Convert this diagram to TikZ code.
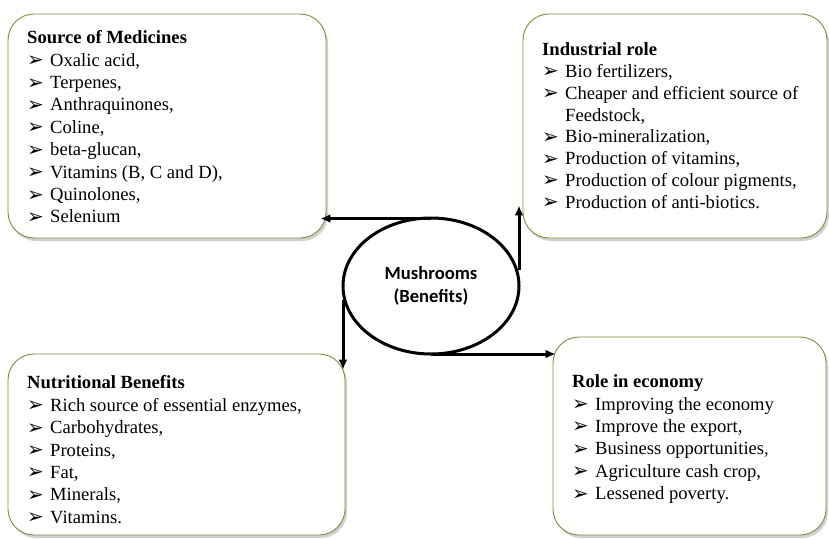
\documentclass[tikz,border=0pt]{standalone}
\usepackage{fontspec}
\setmainfont{Liberation Serif}
\newfontfamily\calib{Carlito}
\newfontfamily\dejavu{DejaVu Sans}
\usetikzlibrary{shadows,arrows.meta,calc,shapes.geometric}
\definecolor{boxgreen}{HTML}{77933C}
\newcommand\bu{\makebox[23pt][l]{\raisebox{-0.5pt}{\dejavu\fontsize{20}{20}\selectfont ➢}}}
\begin{document}
\begin{tikzpicture}[x=1pt,y=-1pt,
  box/.style={draw=boxgreen, line width=0.9pt, fill=white, rounded corners=26pt,
    drop shadow={shadow xshift=2pt, shadow yshift=-3pt, fill=black!45, opacity=0.4}},
  txt/.style={align=left, inner sep=0pt, anchor=north west, font=\fontsize{18.6}{22.4}\selectfont},
  arr/.style={line width=3pt, -{Latex[length=10pt,width=9pt]}}]
\useasboundingbox (0,0) rectangle (829,538);
% boxes
\node[box, minimum width=318pt, minimum height=224pt] (med) at (167,126) {};
\node[box, minimum width=304pt, minimum height=224pt] (ind) at (675,126) {};
\node[box, minimum width=337pt, minimum height=181pt] (nut) at (176.5,444.5) {};
\node[box, minimum width=273pt, minimum height=198pt] (eco) at (689.5,436) {};
% texts
\node[txt] (medt) at (27,30.5) {\textbf{Source of Medicines}\\
  \bu Oxalic acid,\\ \bu Terpenes,\\ \bu Anthraquinones,\\ \bu Coline,\\
  \bu beta-glucan,\\ \bu Vitamins (B, C and D),\\ \bu Quinolones,\\ \bu Selenium};
\node[txt, font=\fontsize{18.6}{21.8}\selectfont] (indt) at (542,42.5) {\textbf{Industrial role}\\
  \bu Bio fertilizers,\\ \bu Cheaper and efficient source of\\ \hspace*{23pt}Feedstock,\\
  \bu Bio-mineralization,\\ \bu Production of vitamins,\\
  \bu Production of colour pigments,\\ \bu Production of anti-biotics.};
\node[txt] (nutt) at (27,375.5) {\textbf{Nutritional Benefits}\\
  \bu Rich source of essential enzymes,\\ \bu Carbohydrates,\\ \bu Proteins,\\
  \bu Fat,\\ \bu Minerals,\\ \bu Vitamins.};
\node[txt] (ecot) at (572,374.5) {\textbf{Role in economy}\\
  \bu Improving the economy\\ \bu Improve the export,\\ \bu Business opportunities,\\
  \bu Agriculture cash crop,\\ \bu Lessened poverty.};
% centre ellipse
\node[ellipse, draw, line width=3pt, fill=white, minimum width=176pt, minimum height=136pt,
  inner sep=0pt, align=center, font=\calib\bfseries\fontsize{18.6}{22.6}\selectfont] (ell) at (431,286)
  {Mushrooms\\(Benefits)};
% connectors
\draw[arr] ([yshift=-2pt]ell.north) -- ([xshift=-6pt,yshift=-2pt]ell.north -| med.east);
\draw[arr] ([xshift=-1.5pt,yshift=16pt]ell.east) -- ($(ell.east |- ind.south)+(-1.5,-33)$);
\draw[arr] ([xshift=1.5pt,yshift=-14pt]ell.west) -- ($(ell.west |- nut.north)+(1.5,16)$);
\draw[arr] ([yshift=1.5pt]ell.south) -- ($(ell.south -| eco.west)+(3,-1.5)$);
\end{tikzpicture}
\end{document}
